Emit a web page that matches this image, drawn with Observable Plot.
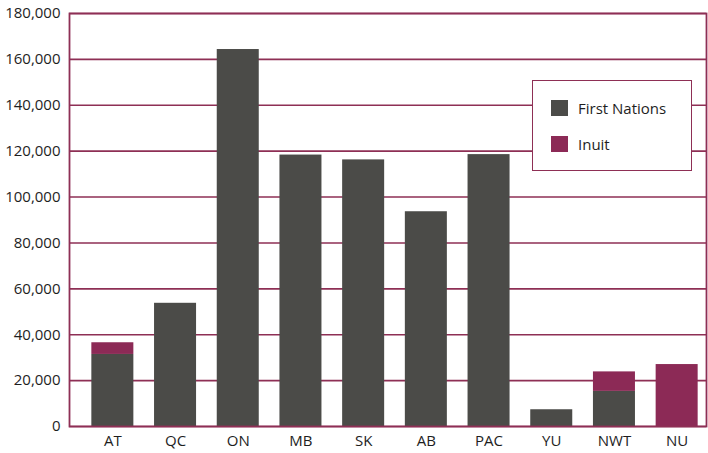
<!DOCTYPE html>
<html>
<head>
<meta charset="utf-8">
<script src="https://cdn.jsdelivr.net/npm/d3@7"></script>
<script src="https://cdn.jsdelivr.net/npm/@observablehq/plot@0.6"></script>
<style>
  html, body { margin: 0; padding: 0; background: #fff; }
  #wrap { position: relative; width: 708px; height: 453px; font-family: "Open Sans", sans-serif; }
  #legend { position: absolute; left: 532px; top: 80px; width: 158px; height: 89px;
    background: #fff; border: 1.6px solid #8e2f55; box-sizing: content-box; }
  .item { position: absolute; left: 18px; display: flex; align-items: center; font-size: 15px; color: #1e1e1e; }
  .sw { width: 17px; height: 16px; margin-right: 10px; }
</style>
</head>
<body>
<div id="wrap"></div>
<script>
const regions = ["AT", "QC", "ON", "MB", "SK", "AB", "PAC", "YU", "NWT", "NU"];
const firstNations = [31400, 53700, 164300, 118300, 116200, 93600, 118500, 7300, 15300, 0];
const inuit = [5100, 0, 0, 0, 0, 0, 0, 0, 8500, 27000];
const groups = ["First Nations", "Inuit"];
const groupColors = ["#4b4b48", "#8c2a56"];
const yTicks = [0, 20000, 40000, 60000, 80000, 100000, 120000, 140000, 160000, 180000];
const gridColor = "#8e2f55";

const rows = [];
regions.forEach((r, i) => {
  rows.push({region: r, group: groups[0], value: firstNations[i]});
  rows.push({region: r, group: groups[1], value: inuit[i]});
});

const chart = Plot.plot({
  width: 708,
  height: 453,
  marginTop: 13,
  marginBottom: 27,
  marginLeft: 69,
  marginRight: 2,
  style: {fontFamily: "Open Sans, sans-serif", fontSize: "15px", color: "#1e1e1e", background: "#fff"},
  x: {domain: regions, range: [81, 708], round: false, paddingInner: 0.33, paddingOuter: 0.165, label: null, tickSize: 0, tickPadding: 9},
  y: {domain: [0, 180000], ticks: yTicks, tickFormat: d3.format(","), label: null, tickSize: 0, tickPadding: 9},
  color: {domain: groups, range: groupColors},
  marks: [
    Plot.ruleY(yTicks, {stroke: gridColor, strokeWidth: 1.6}),
    Plot.barY(rows, Plot.stackY({x: "region", y: "value", fill: "group", order: groups})),
    Plot.frame({stroke: gridColor, strokeWidth: 1.8})
  ]
});

const wrap = document.getElementById("wrap");
wrap.appendChild(chart);

const legend = document.createElement("div");
legend.id = "legend";
groups.forEach((g, i) => {
  const item = document.createElement("div");
  item.className = "item";
  item.style.top = (17 + i * 36) + "px";
  const sw = document.createElement("div");
  sw.className = "sw";
  sw.style.background = groupColors[i];
  const t = document.createElement("span");
  t.textContent = g;
  item.appendChild(sw);
  item.appendChild(t);
  legend.appendChild(item);
});
wrap.appendChild(legend);
</script>
</body>
</html>
